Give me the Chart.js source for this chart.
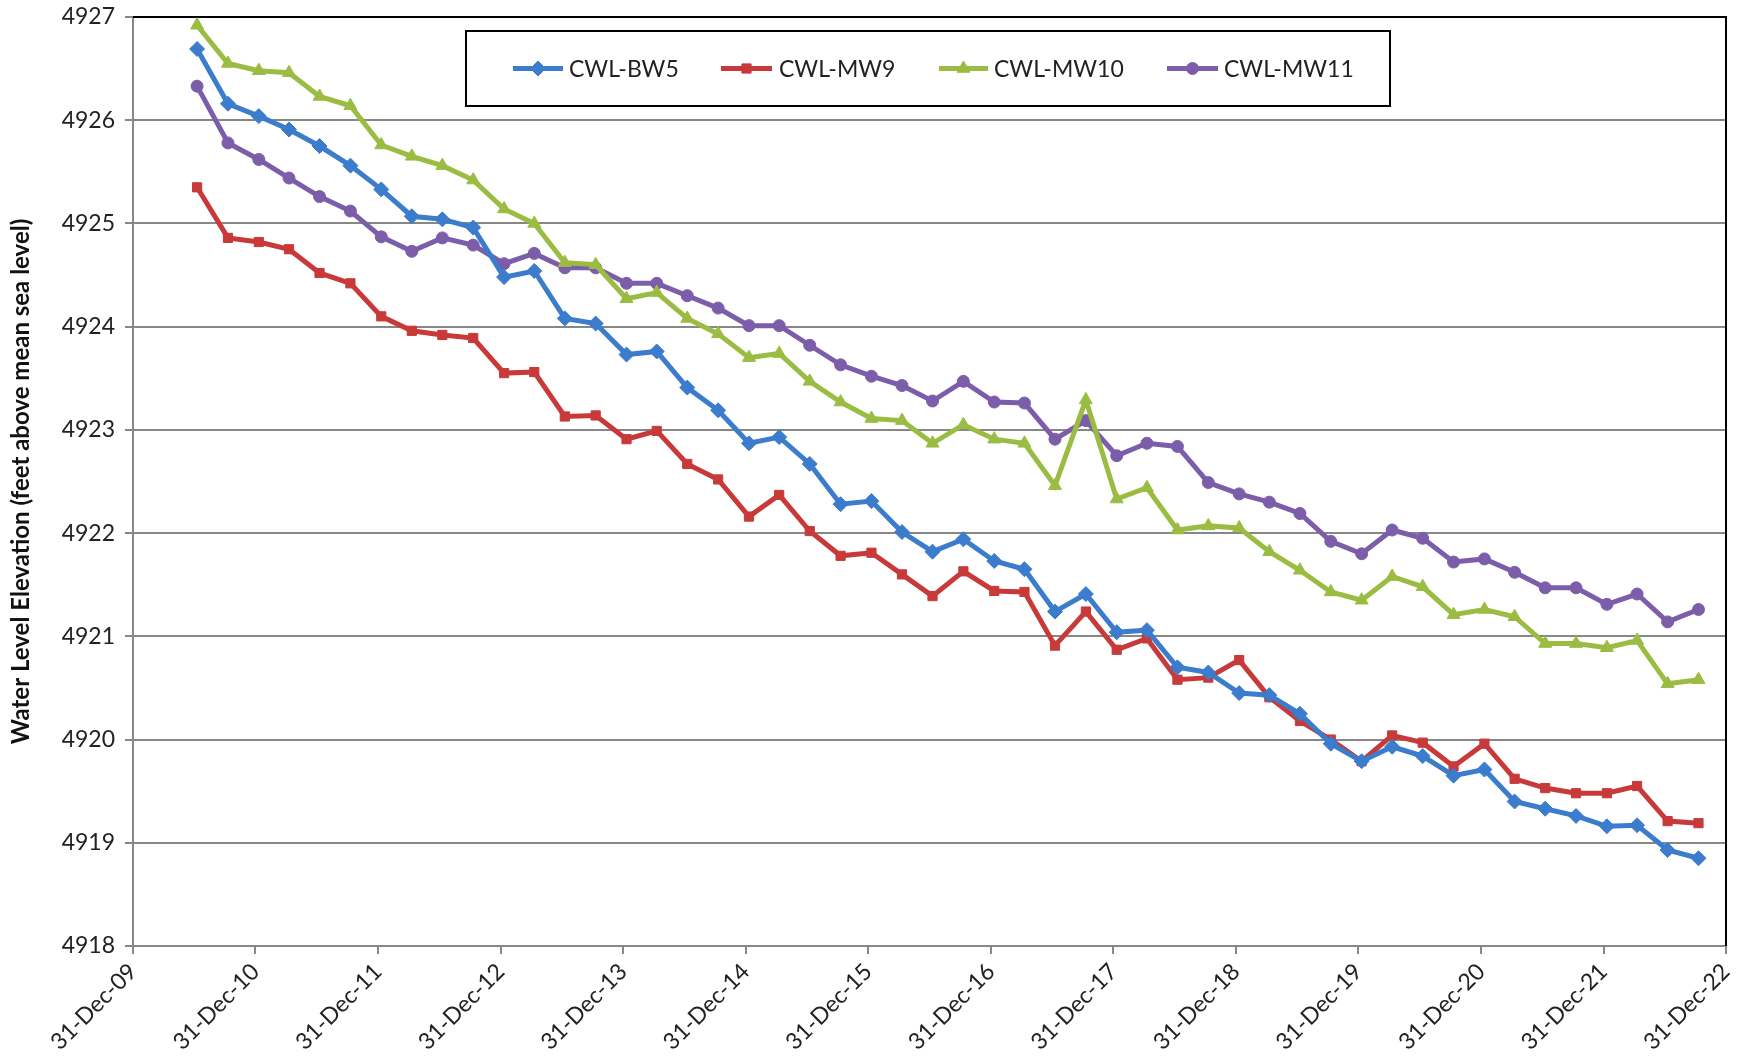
<!DOCTYPE html>
<html>
<head>
<meta charset="utf-8">
<script src="https://cdn.jsdelivr.net/npm/chart.js@4.4.1/dist/chart.umd.min.js"></script>
<style>
html,body{margin:0;padding:0;background:#fff;overflow:hidden}
#wrap{width:1749px;height:1062px;position:relative}
</style>
</head>
<body>
<div id="wrap"><canvas id="c" width="1749" height="1062"></canvas></div>
<script>
// ---- data ----
const sampleDates = [
 '2010-07-10','2010-10-10',
 '2011-01-10','2011-04-10','2011-07-10','2011-10-10',
 '2012-01-10','2012-04-10','2012-07-10','2012-10-10',
 '2013-01-10','2013-04-10','2013-07-10','2013-10-10',
 '2014-01-10','2014-04-10','2014-07-10','2014-10-10',
 '2015-01-10','2015-04-10','2015-07-10','2015-10-10',
 '2016-01-10','2016-04-10','2016-07-10','2016-10-10',
 '2017-01-10','2017-04-10','2017-07-10','2017-10-10',
 '2018-01-10','2018-04-10','2018-07-10','2018-10-10',
 '2019-01-10','2019-04-10','2019-07-10','2019-10-10',
 '2020-01-10','2020-04-10','2020-07-10','2020-10-10',
 '2021-01-10','2021-04-10','2021-07-10','2021-10-10',
 '2022-01-10','2022-04-10','2022-07-10','2022-10-10'
];
const tickDates = ['2009-12-31','2010-12-31','2011-12-31','2012-12-31','2013-12-31','2014-12-31','2015-12-31',
 '2016-12-31','2017-12-31','2018-12-31','2019-12-31','2020-12-31','2021-12-31','2022-12-31'];
const tickLabels = ['31-Dec-09','31-Dec-10','31-Dec-11','31-Dec-12','31-Dec-13','31-Dec-14','31-Dec-15',
 '31-Dec-16','31-Dec-17','31-Dec-18','31-Dec-19','31-Dec-20','31-Dec-21','31-Dec-22'];
const seriesNames = ['CWL-BW5','CWL-MW9','CWL-MW10','CWL-MW11'];

const bw5 = [4926.69,4926.16,4926.04,4925.91,4925.75,4925.56,4925.33,4925.07,4925.04,4924.96,
 4924.48,4924.54,4924.08,4924.03,4923.73,4923.76,4923.41,4923.19,4922.87,4922.93,
 4922.67,4922.28,4922.31,4922.01,4921.82,4921.94,4921.73,4921.65,4921.24,4921.41,
 4921.04,4921.06,4920.70,4920.65,4920.45,4920.43,4920.25,4919.96,4919.79,4919.93,
 4919.84,4919.65,4919.71,4919.40,4919.33,4919.26,4919.16,4919.17,4918.93,4918.85];
const mw9 = [4925.35,4924.86,4924.82,4924.75,4924.52,4924.42,4924.10,4923.96,4923.92,4923.89,
 4923.55,4923.56,4923.13,4923.14,4922.91,4922.99,4922.67,4922.52,4922.16,4922.37,
 4922.02,4921.78,4921.81,4921.60,4921.39,4921.63,4921.44,4921.43,4920.91,4921.24,
 4920.87,4920.98,4920.58,4920.60,4920.77,4920.41,4920.18,4920.00,4919.79,4920.04,
 4919.97,4919.74,4919.96,4919.62,4919.53,4919.48,4919.48,4919.55,4919.21,4919.19];
const mw10 = [4926.92,4926.55,4926.48,4926.46,4926.23,4926.14,4925.76,4925.65,4925.56,4925.42,
 4925.14,4925.00,4924.62,4924.60,4924.27,4924.33,4924.08,4923.93,4923.70,4923.74,
 4923.47,4923.27,4923.11,4923.09,4922.87,4923.05,4922.91,4922.87,4922.46,4923.29,
 4922.33,4922.44,4922.03,4922.07,4922.05,4921.82,4921.64,4921.43,4921.35,4921.58,
 4921.48,4921.21,4921.26,4921.19,4920.93,4920.93,4920.89,4920.96,4920.54,4920.58];
const mw11 = [4926.33,4925.78,4925.62,4925.44,4925.26,4925.12,4924.87,4924.73,4924.86,4924.79,
 4924.61,4924.71,4924.57,4924.57,4924.42,4924.42,4924.30,4924.18,4924.01,4924.01,
 4923.82,4923.63,4923.52,4923.43,4923.28,4923.47,4923.27,4923.26,4922.91,4923.09,
 4922.75,4922.87,4922.84,4922.49,4922.38,4922.30,4922.19,4921.92,4921.80,4922.03,
 4921.95,4921.72,4921.75,4921.62,4921.47,4921.47,4921.31,4921.41,4921.14,4921.26];

const yMin = 4918, yMax = 4927, yStep = 1;

// ---- helpers ----
const DAY = 86400000;
const epoch = Date.UTC(2009, 11, 31);
function dayNum(s){ const p = s.split('-').map(Number); return (Date.UTC(p[0], p[1]-1, p[2]) - epoch) / DAY; }
function pts(vals){ return vals.map((v,i) => ({x: dayNum(sampleDates[i]), y: v})); }

const colors = ['#3C7CCC','#C83A3A','#9BBC42','#7B5DAA'];
const styles = ['rectRot','rect','triangle','circle'];
const radii = [7.5,6.5,7.5,6];
const seriesVals = [bw5, mw9, mw10, mw11];

const FONT = 'Lato, "Open Sans", sans-serif';

const datasets = seriesVals.map((vals, k) => ({
  label: seriesNames[k],
  data: pts(vals),
  borderColor: colors[k],
  backgroundColor: colors[k],
  borderWidth: 5,
  pointStyle: styles[k],
  pointRadius: radii[k],
  pointBorderWidth: 1,
  pointBackgroundColor: colors[k],
  pointBorderColor: colors[k],
  tension: 0
}));

// plot border (black top & right)
const borderPlugin = {
  id: 'plotBorder',
  beforeDatasetsDraw(chart){
    const {ctx, chartArea: a} = chart;
    ctx.save();
    ctx.strokeStyle = '#000';
    ctx.lineWidth = 2;
    ctx.beginPath();
    ctx.moveTo(a.left, a.top);
    ctx.lineTo(a.right, a.top);
    ctx.lineTo(a.right, a.bottom);
    ctx.stroke();
    ctx.restore();
  }
};

// boxed legend
const legendBox = {x: 466, y: 31, w: 924, h: 75};
const legendItems = [
  {x0: 513, x1: 563, tx: 569},
  {x0: 721, x1: 772, tx: 779},
  {x0: 939, x1: 988, tx: 994},
  {x0: 1167, x1: 1218, tx: 1224}
];
const legendPlugin = {
  id: 'boxLegend',
  afterDraw(chart){
    const ctx = chart.ctx;
    ctx.save();
    ctx.fillStyle = '#fff';
    ctx.fillRect(legendBox.x, legendBox.y, legendBox.w, legendBox.h);
    ctx.strokeStyle = '#000';
    ctx.lineWidth = 2;
    ctx.strokeRect(legendBox.x, legendBox.y, legendBox.w, legendBox.h);
    const cy = legendBox.y + legendBox.h/2;
    chart.data.datasets.forEach((ds, k) => {
      const it = legendItems[k];
      ctx.strokeStyle = ds.borderColor;
      ctx.fillStyle = ds.borderColor;
      ctx.lineWidth = 5;
      ctx.beginPath();
      ctx.moveTo(it.x0, cy); ctx.lineTo(it.x1, cy); ctx.stroke();
      ctx.lineWidth = 1;
      Chart.helpers.drawPoint(ctx, {pointStyle: ds.pointStyle, radius: ds.pointRadius, rotation: 0, borderWidth: 1}, (it.x0+it.x1)/2, cy);
      ctx.fillStyle = '#222';
      ctx.font = '23px ' + FONT;
      ctx.textBaseline = 'middle';
      ctx.textAlign = 'left';
      ctx.fillText(ds.label, it.tx, cy + 1);
    });
    ctx.restore();
  }
};

new Chart(document.getElementById('c'), {
  type: 'line',
  data: { datasets },
  options: {
    responsive: false,
    animation: false,
    devicePixelRatio: 1,
    layout: { padding: { top: 17, right: 23, left: 0, bottom: 0 } },
    plugins: { legend: { display: false }, tooltip: { enabled: false } },
    scales: {
      x: {
        type: 'linear',
        min: dayNum(tickDates[0]),
        max: dayNum(tickDates[tickDates.length-1]),
        afterBuildTicks(scale){ scale.ticks = tickDates.map(d => ({value: dayNum(d)})); },
        afterFit(scale){ scale.height = 116; scale.paddingRight = 0; },
        ticks: {
          autoSkip: false,
          maxRotation: 45, minRotation: 45,
          padding: 4,
          color: '#222',
          font: { family: FONT, size: 23 },
          callback(v, i){ return tickLabels[i]; }
        },
        grid: { drawOnChartArea: false, drawTicks: true, tickLength: 8, color: '#878787', lineWidth: 2 },
        border: { color: '#878787', width: 2 }
      },
      y: {
        min: yMin, max: yMax,
        afterFit(scale){ scale.width = 133; scale.paddingTop = 0; scale.paddingBottom = 0; },
        ticks: {
          stepSize: yStep,
          padding: 10,
          color: '#222',
          font: { family: FONT, size: 23 },
          callback(v){ return String(v); }
        },
        grid: { color: '#878787', lineWidth: 2, tickLength: 8 },
        border: { color: '#878787', width: 2 },
        title: {
          display: true,
          text: 'Water Level Elevation (feet above mean sea level)',
          color: '#111',
          font: { family: FONT, size: 24, weight: 'bold' },
          padding: { top: 7, bottom: 0 }
        }
      }
    }
  },
  plugins: [borderPlugin, legendPlugin]
});
</script>
</body>
</html>
